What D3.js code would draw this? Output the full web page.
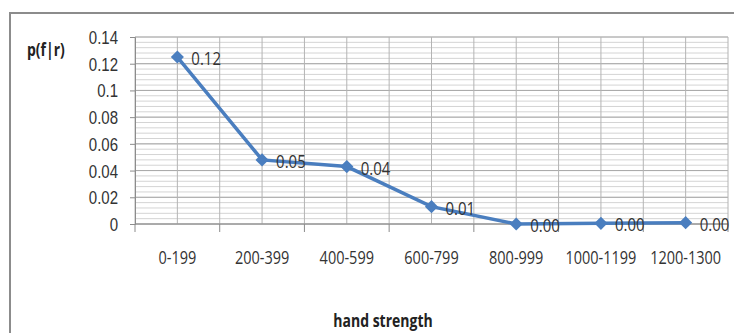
<!DOCTYPE html>
<html>
<head>
<meta charset="utf-8">
<script src="https://cdn.jsdelivr.net/npm/d3@7"></script>
<style>
  body { margin: 0; background: #fff; }
  svg { display: block; font-family: "Open Sans", "Liberation Sans", sans-serif; }
</style>
</head>
<body>
<div id="chart"></div>
<script>
const categories = ["0-199", "200-399", "400-599", "600-799", "800-999", "1000-1199", "1200-1300"];
const values = [0.125, 0.048, 0.043, 0.013, 0.0, 0.0005, 0.001];
const valueLabels = ["0.12", "0.05", "0.04", "0.01", "0.00", "0.00", "0.00"];
const yTicks = [0, 0.02, 0.04, 0.06, 0.08, 0.1, 0.12, 0.14];

const W = 734, H = 333;
const margin = {top: 37, right: 6, bottom: 109, left: 135};
const width = W - margin.left - margin.right;
const height = H - margin.top - margin.bottom;
const stretch = 1.22; // text in the original is tall and narrow

const svg = d3.select("#chart").append("svg")
    .attr("width", W)
    .attr("height", H);

// chart frame
svg.append("path")
    .attr("d", `M10,${H} L10,13 L${W},13`)
    .attr("fill", "none")
    .attr("stroke", "#8c8c8c")
    .attr("stroke-width", 2);

const g = svg.append("g")
    .attr("transform", `translate(${margin.left},${margin.top})`);

const x = d3.scaleBand().domain(categories).range([0, width]);
const y = d3.scaleLinear().domain([0, 0.14]).range([height, 0]);

// minor horizontal gridlines
const minor = d3.range(0, 0.14001, 0.004);
g.selectAll("line.hminor")
    .data(minor)
    .enter()
    .append("line")
    .attr("x1", 0).attr("x2", width)
    .attr("y1", d => y(d)).attr("y2", d => y(d))
    .attr("stroke", "#d4d4d4")
    .attr("stroke-width", 1);

// major horizontal gridlines
g.selectAll("line.hmajor")
    .data(yTicks)
    .enter()
    .append("line")
    .attr("x1", 0).attr("x2", width)
    .attr("y1", d => y(d)).attr("y2", d => y(d))
    .attr("stroke", "#a8a8a8")
    .attr("stroke-width", 1);

// vertical gridlines: category boundaries and centers
const bounds = categories.map(c => x(c)).concat([width]);
const centers = categories.map(c => x(c) + x.bandwidth() / 2);
g.selectAll("line.vgrid")
    .data(bounds.concat(centers))
    .enter()
    .append("line")
    .attr("x1", d => d).attr("x2", d => d)
    .attr("y1", 0).attr("y2", height)
    .attr("stroke", "#b4b4b4")
    .attr("stroke-width", 1);

// y axis
const yAxis = g.append("g")
    .call(d3.axisLeft(y).tickValues(yTicks).tickSize(5).tickFormat(d => d3.format("")(+d.toFixed(2))));
yAxis.select(".domain").attr("stroke", "#8c8c8c");
yAxis.selectAll(".tick line").attr("stroke", "#8c8c8c");
yAxis.selectAll("text")
    .attr("font-size", "15px")
    .attr("fill", "#333")
    .attr("x", 0)
    .attr("dy", null)
    .attr("y", 0)
    .attr("transform", `translate(-17,6.5) scale(1,${stretch})`);

// x axis
const xg = g.append("g").attr("transform", `translate(0,${height})`);
xg.append("line")
    .attr("x1", 0).attr("x2", width)
    .attr("stroke", "#8c8c8c");
xg.selectAll("line.tick")
    .data(bounds)
    .enter()
    .append("line")
    .attr("x1", d => d).attr("x2", d => d)
    .attr("y1", 0).attr("y2", 8)
    .attr("stroke", "#8c8c8c");
xg.selectAll("text")
    .data(categories)
    .enter()
    .append("text")
    .attr("transform", d => `translate(${x(d) + x.bandwidth() / 2},40) scale(1,${stretch})`)
    .attr("text-anchor", "middle")
    .attr("font-size", "14.5px")
    .attr("fill", "#333")
    .text(d => d);

// line
const pts = categories.map((c, i) => ({c: c, v: values[i], label: valueLabels[i]}));
g.append("path")
    .datum(pts)
    .attr("fill", "none")
    .attr("stroke", "#4a7ebf")
    .attr("stroke-width", 3.5)
    .attr("d", d3.line()
        .x(d => x(d.c) + x.bandwidth() / 2)
        .y(d => y(d.v)));

// diamond markers
g.selectAll("path.marker")
    .data(pts)
    .enter()
    .append("path")
    .attr("d", d3.symbol().type(d3.symbolDiamond2).size(110))
    .attr("transform", d => `translate(${x(d.c) + x.bandwidth() / 2},${y(d.v)})`)
    .attr("fill", "#4a7ebf");

// data labels
g.selectAll("text.lbl")
    .data(pts)
    .enter()
    .append("text")
    .attr("transform", d => `translate(${x(d.c) + x.bandwidth() / 2 + 14},${y(d.v) + 8}) scale(1,${stretch})`)
    .attr("font-size", "15px")
    .attr("fill", "#333")
    .text(d => d.label);

// axis titles
svg.append("text")
    .attr("transform", `translate(27,56) scale(1,${stretch})`)
    .attr("font-size", "14px")
    .attr("font-weight", "bold")
    .attr("fill", "#222")
    .text("p(f|r)");

svg.append("text")
    .attr("transform", `translate(383,327) scale(1,${stretch})`)
    .attr("text-anchor", "middle")
    .attr("font-size", "14px")
    .attr("font-weight", "bold")
    .attr("fill", "#222")
    .text("hand strength");
</script>
</body>
</html>
